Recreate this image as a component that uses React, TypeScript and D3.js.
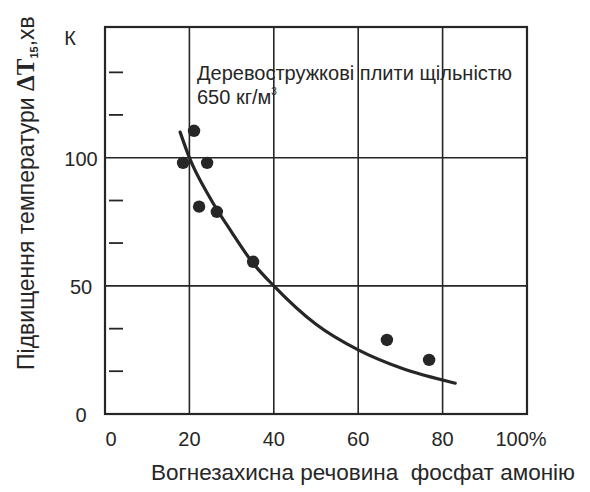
import React from "react";
import * as d3 from "d3";

const xPct = [18.5, 21.1, 24.2, 22.3, 26.5, 35.1, 66.8, 76.8];
const yK = [98, 110.5, 98, 80.9, 78.9, 59.4, 28.9, 21.1];

const fitX = [17.8, 20, 25, 30, 35, 40, 50, 60, 70, 83];
const fitY = [110, 100, 84, 71, 59, 50, 35, 25, 18, 12];

const xTicks = [0, 20, 40, 60, 80, 100];
const xTickLabels = ["0", "20", "40", "60", "80", "100%"];
const yTicks = [0, 50, 100];
const yMinorTicks = [16.7, 33.3, 66.7, 83.3, 116.7, 133.3];

const W = 590;
const H = 492;
const ink = "#262626";
const font = "'Liberation Sans', Arial, sans-serif";

export default function App() {
  const x = d3.scaleLinear().domain([0, 100]).range([105, 527]);
  const y = d3.scaleLinear().domain([0, 151]).range([414, 27]);
  const line = d3
    .line<number>()
    .x((_, i) => x(fitX[i]))
    .y((d) => y(d))
    .curve(d3.curveMonotoneX);

  return (
    <svg
      width={W}
      height={H}
      style={{ position: "absolute", left: 0, top: 0, background: "#fff" }}
      fontFamily={font}
    >
      {xTicks.slice(1, -1).map((v) => (
        <line key={"vx" + v} x1={x(v)} x2={x(v)} y1={y.range()[1]} y2={y.range()[0]} stroke={ink} strokeWidth={1.6} />
      ))}
      {yTicks.slice(1).map((v) => (
        <line key={"hy" + v} x1={x(0)} x2={x(100)} y1={y(v)} y2={y(v)} stroke={ink} strokeWidth={1.6} />
      ))}
      {yMinorTicks.map((v) => (
        <line key={"mt" + v} x1={x(0) + 4} x2={x(0) + 18} y1={y(v)} y2={y(v)} stroke={ink} strokeWidth={1.8} />
      ))}
      <rect x={x(0)} y={y.range()[1]} width={x(100) - x(0)} height={y.range()[0] - y.range()[1]} fill="none" stroke={ink} strokeWidth={2.2} />
      <path d={line(fitY) || ""} fill="none" stroke={ink} strokeWidth={3.2} strokeLinecap="round" />
      {xPct.map((v, i) => (
        <circle key={"p" + i} cx={x(v)} cy={y(yK[i])} r={6.2} fill={ink} />
      ))}
      {xTicks.map((v, i) => (
        <text
          key={"xl" + v}
          x={x(v) + (i === 0 ? 6 : i === xTicks.length - 1 ? -6 : 0)}
          y={446}
          textAnchor="middle"
          fontSize={20}
          fill={ink}
        >
          {xTickLabels[i]}
        </text>
      ))}
      {yTicks.map((v) => (
        <text key={"yl" + v} x={81} y={y(v) + 8} textAnchor="middle" fontSize={20} fill={ink}>
          {String(v)}
        </text>
      ))}
      <text x={70} y={45} textAnchor="middle" fontSize={20} fill={ink}>К</text>
      <text x={197} y={80} fontSize={20} fill={ink}>Деревостружкові плити щільністю</text>
      <text x={197} y={104} fontSize={20} fill={ink}>
        650 кг/м<tspan fontSize={10} dy={-9}>3</tspan>
      </text>
      <text x={363} y={480} textAnchor="middle" fontSize={22.5} fill={ink} style={{ whiteSpace: "pre" }}>
        {"Вогнезахисна речовина  фосфат амонію"}
      </text>
      <text transform="translate(34,370) rotate(-90)" fontSize={23} fill={ink}>
        Підвищення температури{" "}
        <tspan fontFamily="'Liberation Serif', serif" fontWeight="bold" fontSize={25}>ΔT</tspan>
        <tspan fontSize={11} dy={4} fontWeight="bold">15</tspan>
        <tspan dy={-4}>,хв</tspan>
      </text>
    </svg>
  );
}
